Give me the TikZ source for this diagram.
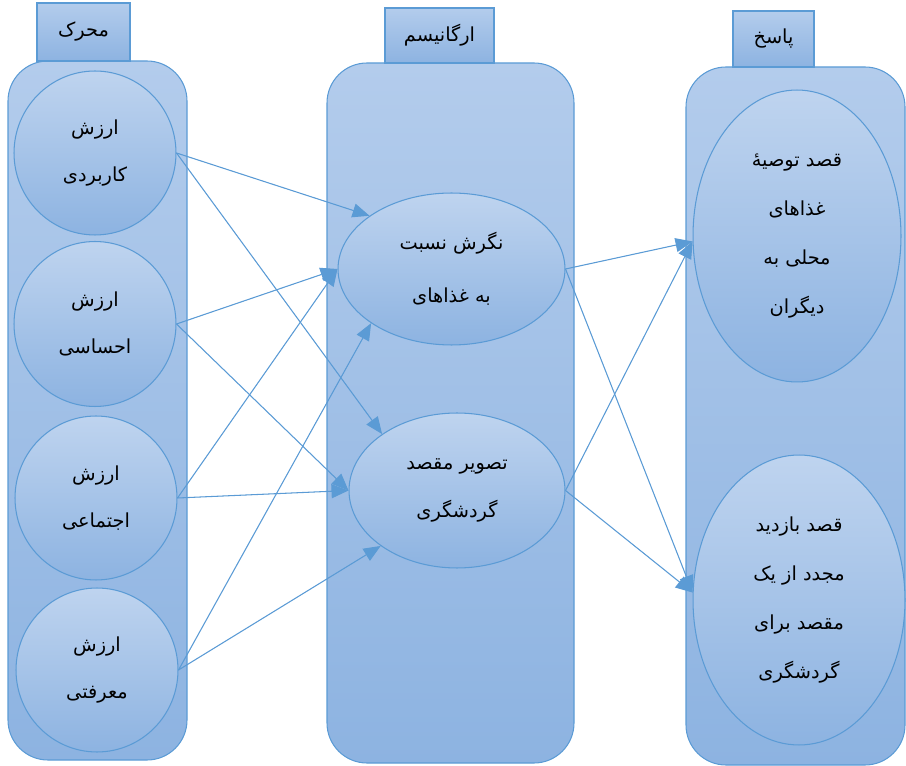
\documentclass[tikz,border=0pt]{standalone}
\usepackage{fontspec}
\newfontfamily\farsi[Script=Arabic]{DejaVu Sans}
\TeXXeTstate=1
\usetikzlibrary{shapes.geometric,arrows.meta}
\definecolor{lineblue}{RGB}{91,155,213}
\definecolor{topblue}{RGB}{179,204,236}
\definecolor{botblue}{RGB}{141,179,225}
\newcommand{\fatxt}[1]{\beginR #1\endR}
\begin{document}
\begin{tikzpicture}[x=0.02cm,y=-0.02cm]
    \tikzset{>={Triangle[length=3.4mm,width=2.8mm]}}
    \tikzset{
      panel/.style={draw=lineblue, line width=0.6pt, top color=topblue, bottom color=botblue, rounded corners=0.8cm},
      tabbox/.style={draw=lineblue, line width=0.6pt, top color=topblue, bottom color=botblue, inner sep=0pt, font=\farsi\fontsize{11}{13}\selectfont},
      valnode/.style={ellipse, draw=lineblue, line width=0.6pt, top color=topblue!85!white, bottom color=botblue, inner sep=0pt, align=center, font=\farsi\fontsize{11}{27}\selectfont},
      link/.style={->, draw=lineblue, fill=lineblue, line width=0.6pt}
    }
    \useasboundingbox (0,0) rectangle (906,766);
    \draw[panel] (8,61) rectangle (187,760);
    \draw[panel] (327,63) rectangle (574,763);
    \draw[panel] (686,67) rectangle (905,765);
    \node[tabbox, minimum width=1.86cm, minimum height=1.16cm] (stimtab) at (83.5,32) {\fatxt{محرک}};
    \node[tabbox, minimum width=2.18cm, minimum height=1.1cm] (orgtab) at (439.5,35.5) {\fatxt{ارگانیسم}};
    \node[tabbox, minimum width=1.62cm, minimum height=1.12cm] (resptab) at (773.5,39) {\fatxt{پاسخ}};
    \node[valnode, minimum width=3.24cm, minimum height=3.28cm] (cuse) at (95,153) {\fatxt{ارزش}\\\fatxt{کاربردی}};
    \node[valnode, minimum width=3.24cm, minimum height=3.3cm] (cemo) at (95,324) {\fatxt{ارزش}\\\fatxt{احساسی}};
    \node[valnode, minimum width=3.24cm, minimum height=3.28cm] (csoc) at (96,498) {\fatxt{ارزش}\\\fatxt{اجتماعی}};
    \node[valnode, minimum width=3.24cm, minimum height=3.28cm] (cepi) at (97,670) {\fatxt{ارزش}\\\fatxt{معرفتی}};
    \node[valnode, minimum width=4.54cm, minimum height=3.04cm, font=\farsi\fontsize{11}{30}\selectfont] (att) at (451.5,269) {\fatxt{نگرش نسبت}\\\fatxt{به غذاهای}};
    \node[valnode, minimum width=4.32cm, minimum height=3.1cm] (img) at (457,490.5) {\fatxt{تصویر مقصد}\\\fatxt{گردشگری}};
    \node[valnode, minimum width=4.16cm, minimum height=5.84cm, font=\farsi\fontsize{11}{28}\selectfont] (wom) at (797,236) {\fatxt{قصد توصیهٔ}\\\fatxt{غذاهای}\\\fatxt{محلی به}\\\fatxt{دیگران}};
    \node[valnode, minimum width=4.24cm, minimum height=5.8cm, font=\farsi\fontsize{11}{28}\selectfont] (revisit) at (799,600) {\fatxt{قصد بازدید}\\\fatxt{مجدد از یک}\\\fatxt{مقصد برای}\\\fatxt{گردشگری}};
    \draw[link] (cuse.east) -- (att.147);
    \draw[link] (cuse.east) -- (img.143);
    \draw[link] (cemo.east) -- (att.180);
    \draw[link] (cemo.east) -- (img.180);
    \draw[link] (csoc.east) -- (att.180);
    \draw[link] (csoc.east) -- (img.180);
    \draw[link] (cepi.east) -- (att.214);
    \draw[link] (cepi.east) -- (img.216);
    \draw[link] (att.east) -- (wom.183);
    \draw[link] (att.east) -- (revisit.176);
    \draw[link] (img.east) -- (wom.183);
    \draw[link] (img.east) -- (revisit.176);
\end{tikzpicture}
\end{document}
